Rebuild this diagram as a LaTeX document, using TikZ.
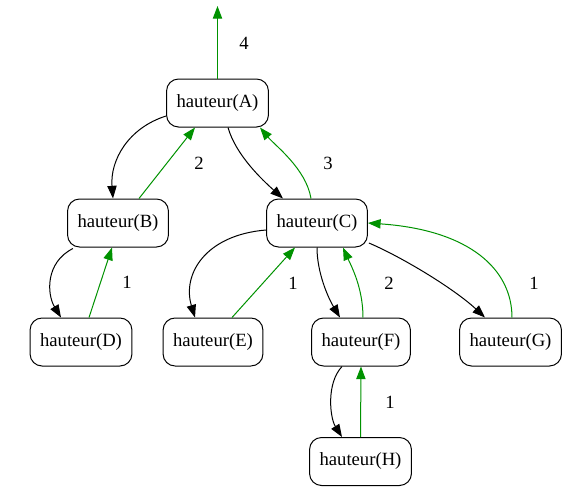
\documentclass[tikz,border=0pt]{standalone}
\usepackage{fontspec}
\setmainfont{Liberation Serif}
\usetikzlibrary{arrows.meta,calc}
\definecolor{retourgreen}{RGB}{0,146,0}
\begin{document}
\begin{tikzpicture}[y=0.75pt, x=0.75pt, yscale=-1,
  box/.style={draw, line width=0.75pt, rounded corners=9pt, minimum height=36pt, inner xsep=7.5pt, font=\fontsize{14}{16}\selectfont},
  descend/.style={draw=black, line width=0.75pt, -{Triangle[length=9.5pt,width=7pt]}},
  ascend/.style={draw=retourgreen, line width=0.75pt, -{Triangle[length=9.5pt,width=7pt]}},
  num/.style={font=\fontsize{14}{16}\selectfont}]
  \useasboundingbox (0,0) rectangle (572,497);
  \begin{scope}[]% appels
    \node[box] (A) at (217.5,103) {hauteur(A)};
    \node[box] (B) at (118,223) {hauteur(B)};
    \node[box] (C) at (317,223) {hauteur(C)};
    \node[box] (D) at (81,342) {hauteur(D)};
    \node[box] (E) at (213,342) {hauteur(E)};
    \node[box] (F) at (361,342) {hauteur(F)};
    \node[box] (G) at (510.5,342) {hauteur(G)};
    \node[box] (H) at (360.5,461.5) {hauteur(H)};
    \coordinate (top) at (217.5,6);

    % descente
    \draw[descend] ($(A.west)+(0,13)$) .. controls +(-38,12) and +(-3,-38) .. ($(B.north)+(-5,0)$);
    \draw[descend] ($(A.south)+(10.5,0)$) .. controls +(8,28) and +(-20,-18) .. ($(C.north)+(-34,0)$);
    \draw[descend] ($(B.south)+(-45,1)$) .. controls +(-28,14) and +(-14,-23) .. ($(D.north)+(-20,0)$);
    \draw[descend] ($(C.west)+(0,7)$) .. controls +(-61,5) and +(-13,-43) .. ($(E.north)+(-18,0)$);
    \draw[descend] (C.south) .. controls +(0,25) and +(-12,-20) .. ($(F.north)+(-21,0)$);
    \draw[descend] ($(C.east)+(1,20)$) .. controls +(35,15) and +(-30,-28) .. ($(G.north)+(-25.5,0)$);
    \draw[descend] ($(F.south)+(-19,0)$) .. controls +(-16,17) and +(-12,-19) .. ($(H.north)+(-18.5,0)$);

    % retour
    \draw[ascend] (A.north) -- (top);
    \draw[ascend] ($(B.north)+(21,0)$) -- ($(A.south)+(-22.5,0)$);
    \draw[ascend] ($(C.north)+(-6,0)$) .. controls +(-5,-30) and +(15,18) .. ($(A.south)+(42.5,0)$);
    \draw[ascend] ($(D.north)+(8,0)$) -- ($(B.south)+(-6,0)$);
    \draw[ascend] ($(E.north)+(19,0)$) -- ($(C.south)+(-22,0)$);
    \draw[ascend] ($(F.north)+(2,0)$) .. controls +(0,-30) and +(8,18) .. ($(C.south)+(26,0)$);
    \draw[ascend] ($(G.north)+(1.5,0)$) .. controls +(0,-48) and +(102,7) .. (C.east);
    \draw[ascend] (H.north) -- (F.south);

    \node[num] (nA) at (244,43) {4};
    \node[num] (nB) at (199,163) {2};
    \node[num] (nC) at (328,163) {3};
    \node[num] (nD) at (127,282) {1};
    \node[num] (nE) at (293,283) {1};
    \node[num] (nF) at (389,283) {2};
    \node[num] (nG) at (534,283) {1};
    \node[num] (nH) at (390,402) {1};
  \end{scope}
\end{tikzpicture}
\end{document}
